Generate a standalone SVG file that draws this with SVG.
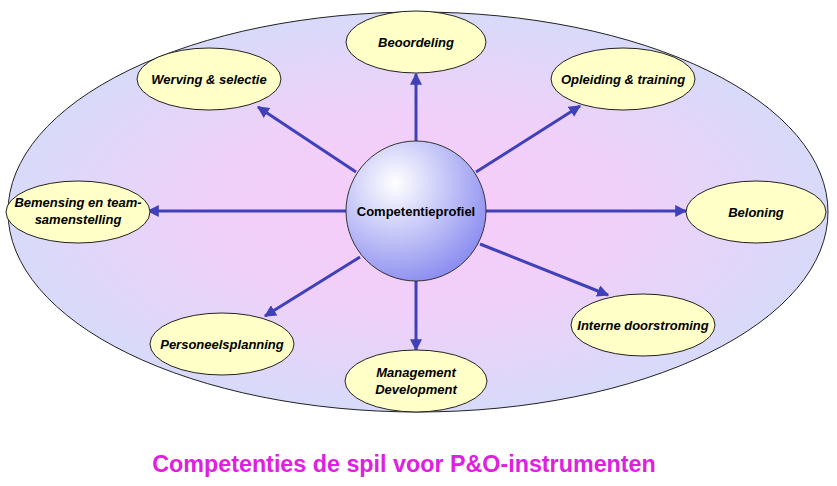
<svg xmlns="http://www.w3.org/2000/svg" width="837" height="486" viewBox="0 0 837 486">
<defs>
<radialGradient id="bg" cx="50%" cy="50%" r="50%"><stop offset="0" stop-color="#f6ccf8"/><stop offset="0.5" stop-color="#f0d0f8"/><stop offset="1" stop-color="#d8dafa"/></radialGradient>
<radialGradient id="sp" cx="35%" cy="30%" r="75%"><stop offset="0" stop-color="#ffffff"/><stop offset="1" stop-color="#8a8cf0"/></radialGradient>
<marker id="ah" viewBox="0 0 10 10" refX="9" refY="5" markerWidth="4" markerHeight="4" orient="auto"><path d="M0,0L10,5L0,10z" fill="#4040b8"/></marker>
<style>
.n{fill:#ffffc8;stroke:#222;stroke-width:1}
.t{font-family:"Liberation Sans",Arial,sans-serif;font-size:13px;font-weight:bold;font-style:italic;text-anchor:middle;fill:#000}
.c line{stroke:#4040b8;stroke-width:3;marker-end:url(#ah)}
</style>
</defs>
<rect width="837" height="486" fill="#fff"/>
<ellipse cx="418" cy="212" rx="410" ry="200" fill="url(#bg)" stroke="#222"/>
<g class="c">
<line x1="416" y1="141" x2="416" y2="74"/>
<line x1="356" y1="172" x2="258" y2="107"/>
<line x1="476" y1="172" x2="580" y2="106"/>
<line x1="346" y1="211" x2="148" y2="211"/>
<line x1="486" y1="211" x2="686" y2="211"/>
<line x1="360" y1="257" x2="265" y2="316"/>
<line x1="416" y1="281" x2="416" y2="350"/>
<line x1="480" y1="244" x2="608" y2="295"/>
</g>
<g id="center"><circle cx="416" cy="211" r="70" fill="url(#sp)" stroke="#333"/><text x="416" y="216" class="t" style="font-style:normal">Competentieprofiel</text></g>
<g id="beoordeling"><ellipse class="n" cx="416" cy="42" rx="70" ry="31"/><text class="t" x="416" y="47">Beoordeling</text></g>
<g id="werving"><ellipse class="n" cx="209" cy="79" rx="72" ry="31"/><text class="t" x="209" y="84">Werving &amp; selectie</text></g>
<g id="opleiding"><ellipse class="n" cx="623" cy="79" rx="72" ry="31"/><text class="t" x="623" y="84">Opleiding &amp; training</text></g>
<g id="bemensing"><ellipse class="n" cx="78" cy="212" rx="72" ry="31"/><text class="t" x="78" y="207">Bemensing en team-</text><text class="t" x="78" y="224">samenstelling</text></g>
<g id="beloning"><ellipse class="n" cx="756" cy="212" rx="70" ry="31"/><text class="t" x="756" y="217">Beloning</text></g>
<g id="personeel"><ellipse class="n" cx="222" cy="344" rx="72" ry="31"/><text class="t" x="222" y="349">Personeelsplanning</text></g>
<g id="md"><ellipse class="n" cx="416" cy="381" rx="71" ry="31"/><text class="t" x="416" y="377">Management</text><text class="t" x="416" y="394">Development</text></g>
<g id="interne"><ellipse class="n" cx="643" cy="325" rx="72" ry="31"/><text class="t" x="643" y="330">Interne doorstroming</text></g>
<text x="404" y="472" font-family="Liberation Sans,Arial,sans-serif" font-size="23.3" font-weight="bold" fill="#e020e0" text-anchor="middle">Competenties de spil voor P&amp;O-instrumenten</text>
</svg>
